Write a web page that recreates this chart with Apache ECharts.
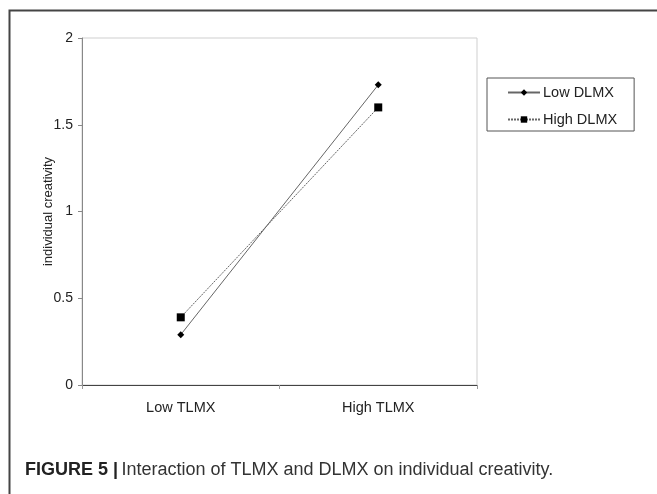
<!DOCTYPE html>
<html>
<head>
<meta charset="utf-8">
<script src="https://cdn.jsdelivr.net/npm/echarts@6/dist/echarts.min.js"></script>
<style>
html,body{margin:0;padding:0;background:#fff;}
#c{width:657px;height:494px;}
</style>
</head>
<body>
<div id="c"></div>
<script>
const categories = ['Low TLMX', 'High TLMX'];
const lowDLMX = [0.29, 1.73];
const highDLMX = [0.39, 1.60];
const yTicks = { min: 0, max: 2, interval: 0.5 };
const seriesNames = ['Low DLMX', 'High DLMX'];

const chart = echarts.init(document.getElementById('c'));
const font = 'Liberation Sans, Arial, sans-serif';
chart.setOption({
  animation: false,
  backgroundColor: '#fff',
  grid: { left: 82, top: 38, right: 180, bottom: 109, show: true, borderColor: '#cfcfcf', borderWidth: 1 },
  xAxis: {
    type: 'category',
    data: categories,
    boundaryGap: true,
    axisLine: { lineStyle: { color: '#444', width: 1 } },
    axisTick: { show: true, length: 4, lineStyle: { color: '#999' } },
    axisLabel: { color: '#222', fontSize: 14.5, fontFamily: font, margin: 15 },
    splitLine: { show: false }
  },
  yAxis: {
    type: 'value',
    min: yTicks.min, max: yTicks.max, interval: yTicks.interval,
    name: 'individual creativity',
    nameLocation: 'middle',
    nameGap: 27,
    nameMoveOverlap: false,
    nameTextStyle: { color: '#222', fontSize: 13, fontFamily: font },
    axisLine: { show: true, lineStyle: { color: '#888', width: 1 } },
    axisTick: { show: true, length: 4, lineStyle: { color: '#888' } },
    axisLabel: { color: '#222', fontSize: 14, fontFamily: font, margin: 9 },
    splitLine: { show: false }
  },
  legend: {
    orient: 'vertical',
    left: 487, top: 78,
    borderColor: '#555', borderWidth: 1,
    padding: [7, 17, 4, 20],
    itemWidth: 32, itemHeight: 8, itemGap: 12,
    textStyle: { color: '#222', fontSize: 14.5, fontFamily: font, padding: [0, 0, 0, -2] },
    data: seriesNames
  },
  series: [
    {
      name: seriesNames[0], type: 'line', data: lowDLMX,
      symbol: 'diamond', symbolSize: 7,
      lineStyle: { color: '#666', width: 1, type: 'solid' },
      itemStyle: { color: '#000' }
    },
    {
      name: seriesNames[1], type: 'line', data: highDLMX,
      symbol: 'rect', symbolSize: 8,
      lineStyle: { color: '#666', width: 1, type: [2, 1] },
      itemStyle: { color: '#000' }
    }
  ],
  graphic: [
    { type: 'rect', left: 7, top: 8, shape: { width: 700, height: 520 }, style: { fill: 'none', stroke: '#444', lineWidth: 2 }, silent: true, z: -1 },
    {
      type: 'text', left: 25, top: 461,
      style: {
        text: '{b|FIGURE 5 |} {n|Interaction of TLMX and DLMX on individual creativity.}',
        rich: {
          b: { fontWeight: 'bold', fontSize: 18, fill: '#222', fontFamily: font },
          n: { fontSize: 18, fill: '#333', fontFamily: font }
        }
      }
    }
  ]
});
</script>
</body>
</html>
